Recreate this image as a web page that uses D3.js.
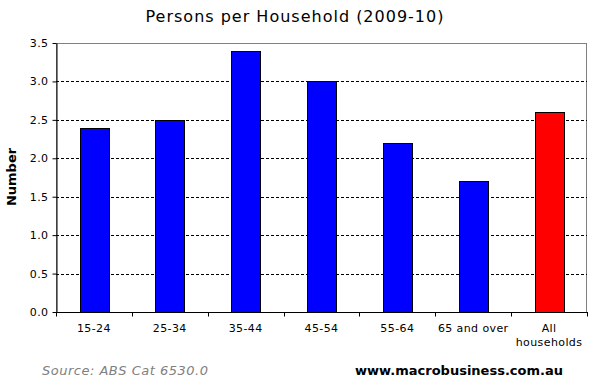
<!DOCTYPE html>
<html><head><meta charset="utf-8">
<script src="https://cdn.jsdelivr.net/npm/d3@7"></script>
<style>body{margin:0;background:#fff}</style>
</head><body>
<script>
const categories = ["15-24","25-34","35-44","45-54","55-64","65 and over","All households"];
const values = [2.4, 2.5, 3.4, 3.0, 2.2, 1.7, 2.6];
const colors = ["#0000ff","#0000ff","#0000ff","#0000ff","#0000ff","#0000ff","#ff0000"];
const yTicks = [0,0.5,1.0,1.5,2.0,2.5,3.0,3.5];

const W=597,H=384;
const m={l:56,r:10,t:43,b:72};
const svg=d3.select("body").append("svg").attr("width",W).attr("height",H)
  .style("font-family","Verdana, 'DejaVu Sans', sans-serif");
const x=d3.scaleBand().domain(categories).range([m.l,587]).paddingInner(0.62).paddingOuter(0.31);
const xb=d3.scaleBand().domain(categories).range([m.l,587]);
const y=d3.scaleLinear().domain([0,3.5]).range([312,43]);

// frame
svg.append("rect").attr("x",m.l+0.5).attr("y",43.5).attr("width",587-m.l-1).attr("height",312-43)
  .attr("fill","none").attr("stroke","#808080");
// grid
svg.append("g").selectAll("line").data(yTicks.filter(d=>d>0&&d<3.5)).join("line")
  .attr("x1",m.l).attr("x2",587).attr("y1",d=>Math.round(y(d))+0.5).attr("y2",d=>Math.round(y(d))+0.5)
  .attr("stroke","#000").attr("stroke-dasharray","3,2");
// bars
svg.append("g").selectAll("rect").data(categories).join("rect")
  .attr("x",d=>Math.round(x(d))+0.5).attr("width",Math.round(x.bandwidth()))
  .attr("y",(d,i)=>Math.round(y(values[i]))+0.5).attr("height",(d,i)=>Math.round(312-y(values[i])))
  .attr("fill",(d,i)=>colors[i]).attr("stroke","#000");
// y axis
const ya=svg.append("g").attr("transform",`translate(${m.l+0.5},0)`)
  .call(d3.axisLeft(y).tickValues(yTicks).tickFormat(d3.format(".1f")).tickSize(4).tickSizeOuter(0));
ya.select(".domain").attr("stroke","#000");
ya.selectAll("text").attr("font-size",11).attr("font-family","Verdana, 'DejaVu Sans', sans-serif").attr("fill","#000").attr("x",-8).attr("letter-spacing",0.4);
// x axis
const xa=svg.append("g").attr("transform",`translate(0,312.5)`);
xa.append("line").attr("x1",m.l).attr("x2",588).attr("stroke","#000");
xa.selectAll("line.t").data(categories.concat(["end"])).join("line").attr("class","t")
  .attr("x1",(d,i)=>Math.round(m.l+i*xb.step())+0.5).attr("x2",(d,i)=>Math.round(m.l+i*xb.step())+0.5)
  .attr("y1",0).attr("y2",4).attr("stroke","#000");
xa.selectAll("text").data(categories).join("text")
  .attr("x",d=>xb(d)+xb.bandwidth()/2).attr("y",19).attr("text-anchor","middle")
  .attr("font-size",11).attr("fill","#000").attr("letter-spacing",0.4)
  .each(function(d){
    const t=d3.select(this);
    if(d==="All households"){
      t.append("tspan").attr("x",xb(d)+xb.bandwidth()/2).text("All");
      t.append("tspan").attr("x",xb(d)+xb.bandwidth()/2).attr("dy",14).text("households");
    } else t.text(d);
  });
// title
svg.append("text").attr("x",295).attr("y",22).attr("text-anchor","middle").attr("font-size",16).attr("letter-spacing",1).text("Persons per Household (2009-10)");
// y label
svg.append("text").attr("transform","translate(16,177) rotate(-90)").attr("text-anchor","middle")
  .attr("font-size",13).attr("font-weight","bold").text("Number");
// footer
svg.append("text").attr("x",42).attr("y",375).attr("font-size",13).attr("letter-spacing",0.5).attr("font-style","italic").attr("fill","#808080").text("Source: ABS Cat 6530.0");
svg.append("text").attr("x",563).attr("y",375).attr("text-anchor","end").attr("font-size",13).attr("font-weight","bold").text("www.macrobusiness.com.au");
</script>
</body></html>
